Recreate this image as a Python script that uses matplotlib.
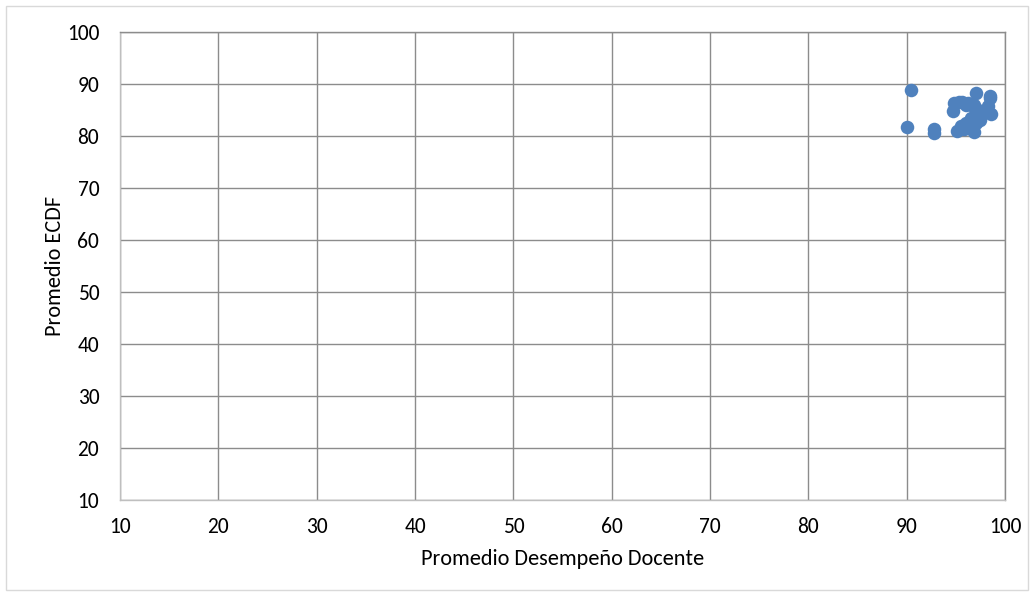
import matplotlib
matplotlib.use("Agg")
import matplotlib.pyplot as plt
from matplotlib.patches import Rectangle

desempeno = [90.4, 90.0, 92.8, 92.8, 95.3, 94.7, 95.6, 96.2, 97.0, 98.5, 98.5, 98.6,
             98.3, 96.8, 97.2, 96.5, 96.0, 95.5, 95.1, 96.8, 97.5, 96.3, 97.0, 97.8,
             96.0, 96.8, 95.8, 97.3, 94.8]
ecdf = [88.8, 81.7, 81.4, 80.5, 86.6, 84.8, 86.5, 86.3, 88.2, 87.7, 87.3, 84.2,
        85.8, 85.5, 84.0, 83.5, 82.5, 82.0, 81.0, 80.8, 83.0, 81.5, 82.5, 84.5,
        86.0, 86.0, 81.3, 85.0, 86.4]
ticks = [10, 20, 30, 40, 50, 60, 70, 80, 90, 100]

plt.rcParams['font.family'] = ['Carlito', 'Lato', 'DejaVu Sans']
fig = plt.figure(figsize=(10.34, 5.96), dpi=100)
fig.patches.append(Rectangle((6/1034, 6/596), 1022/1034, 584/596, transform=fig.transFigure,
                             fill=False, edgecolor='#D9D9D9', linewidth=1))
ax = fig.add_axes([120/1034, 96/596, 885/1034, 468/596])
ax.scatter(desempeno, ecdf, s=95, color='#4F81BD', zorder=3, linewidths=0)
ax.set_xlim(10, 100)
ax.set_ylim(10, 100)
ax.set_xticks(ticks)
ax.set_yticks(ticks)
ax.grid(True, color='#8C8C8C', linewidth=1)
ax.set_axisbelow(True)
for s in ax.spines.values():
    s.set_color('#8C8C8C')
    s.set_linewidth(1)
ax.spines['left'].set_color('#BFBFBF')
ax.spines['bottom'].set_color('#BFBFBF')
ax.tick_params(length=0, labelsize=15.5, colors='black')
ax.tick_params(axis='y', pad=15)
ax.tick_params(axis='x', pad=12)
ax.set_xlabel('Promedio Desempeño Docente', fontsize=16, labelpad=9)
ax.set_ylabel('Promedio ECDF', fontsize=16, labelpad=1)
fig.savefig('out.png', dpi=100)
